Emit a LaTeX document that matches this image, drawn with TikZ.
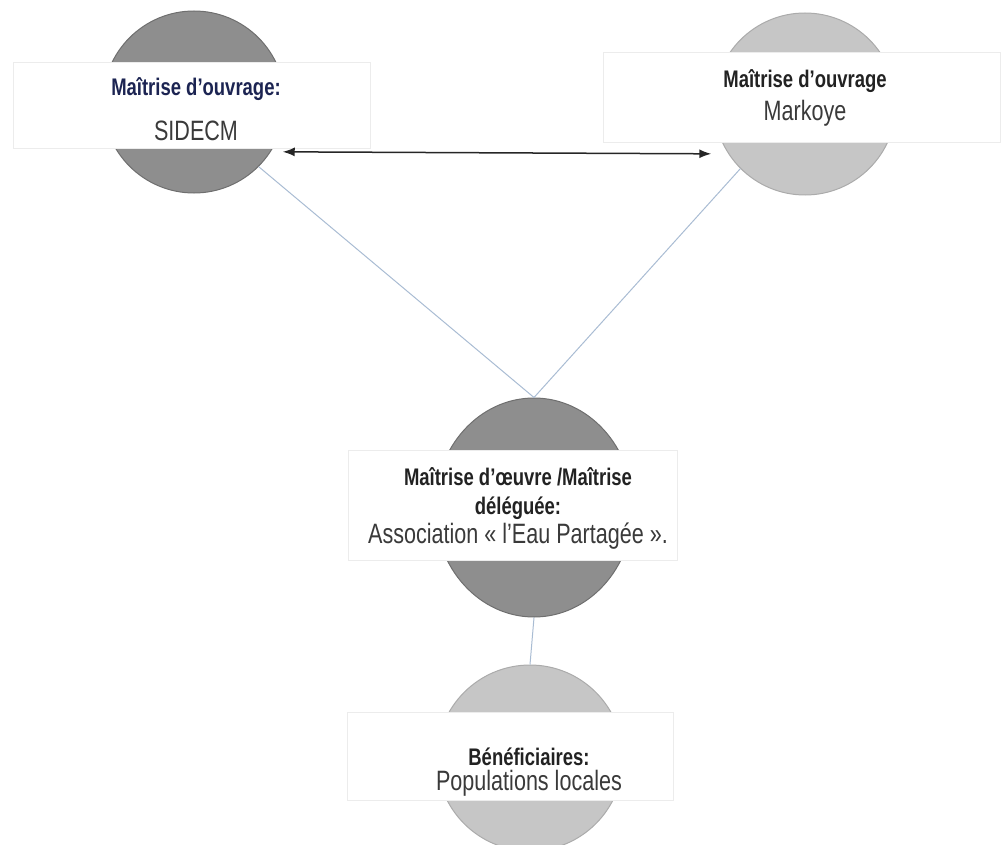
\documentclass[tikz,border=0pt]{standalone}
\usepackage{fontspec}
\setmainfont{Liberation Sans}[FakeStretch=0.77]
\usetikzlibrary{arrows.meta,shapes.geometric}

\definecolor{discdark}{HTML}{8E8E8E}
\definecolor{discdarkline}{HTML}{6F6F6F}
\definecolor{disclight}{HTML}{C6C6C6}
\definecolor{disclightline}{HTML}{ABABAB}
\definecolor{boxline}{HTML}{ECECEC}
\definecolor{linkblue}{HTML}{A9BCD3}
\definecolor{tagnavy}{HTML}{1C2452}
\definecolor{tagtext}{HTML}{222222}
\definecolor{nametext}{HTML}{3A3A3A}

\newcommand{\entname}[1]{{\fontsize{28}{29}\selectfont\mdseries\color{nametext}#1}}

\begin{document}
\begin{tikzpicture}[x=1pt, y=-1pt, >={Latex[length=12pt,width=9pt]},
disc/.style={circle, inner sep=0pt, minimum size=182pt, line width=1pt},
darkdisc/.style={disc, fill=discdark, draw=discdarkline},
lightdisc/.style={disc, fill=disclight, draw=disclightline},
box/.style={rectangle, fill=white, draw=boxline, inner sep=0pt},
tag/.style={align=center, inner sep=0pt, text=tagtext, font=\fontsize{24}{29}\selectfont\bfseries},
link/.style={draw=linkblue, line width=1pt}]
  \useasboundingbox (0,0) rectangle (1003,845);
  % discs
  \node[darkdisc] (sidecm) at (194,102) {};
  \node[lightdisc] (markoye) at (805,104) {};
  \node[darkdisc, ellipse, minimum width=198pt, minimum height=219pt] (deleguee) at (534,507.5) {};
  \node[lightdisc, minimum size=186pt] (benef) at (530,758) {};
  % links
  \draw[link] (sidecm.-45) -- (deleguee.north);
  \draw[link] (markoye.-135) -- (deleguee.north);
  \draw[link] (deleguee.south) -- (benef.north);
  % white boxes
  \node[box, minimum width=357pt, minimum height=86pt] (sidecm-box) at (191.5,105) {};
  \node[box, minimum width=397pt, minimum height=90pt] (markoye-box) at (801.5,97) {};
  \node[box, minimum width=329pt, minimum height=110pt] (deleguee-box) at (512.5,505) {};
  \node[box, minimum width=326pt, minimum height=88pt] (benef-box) at (510,756) {};
  % texts
  \node[tag, text=tagnavy] (sidecm-txt) at (196,109) {Maîtrise d’ouvrage:\\[16pt]\entname{SIDECM}};
  \node[tag] (markoye-txt) at (805,98) {Maîtrise d’ouvrage\\[4pt]\entname{Markoye}};
  \node[tag] (deleguee-txt) at (518,508) {Maîtrise d’œuvre /Maîtrise\\déléguée:\\\entname{Association « l’Eau Partagée ».}};
  \node[tag] (benef-txt) at (529,772) {Bénéficiaires:\\[-4pt]\entname{Populations locales}};
  % arrow
  \draw[<->, line width=1.5pt, draw=black!85] ([xshift=12pt]sidecm.-33) -- ([xshift=-17pt]markoye.-147);
\end{tikzpicture}
\end{document}
